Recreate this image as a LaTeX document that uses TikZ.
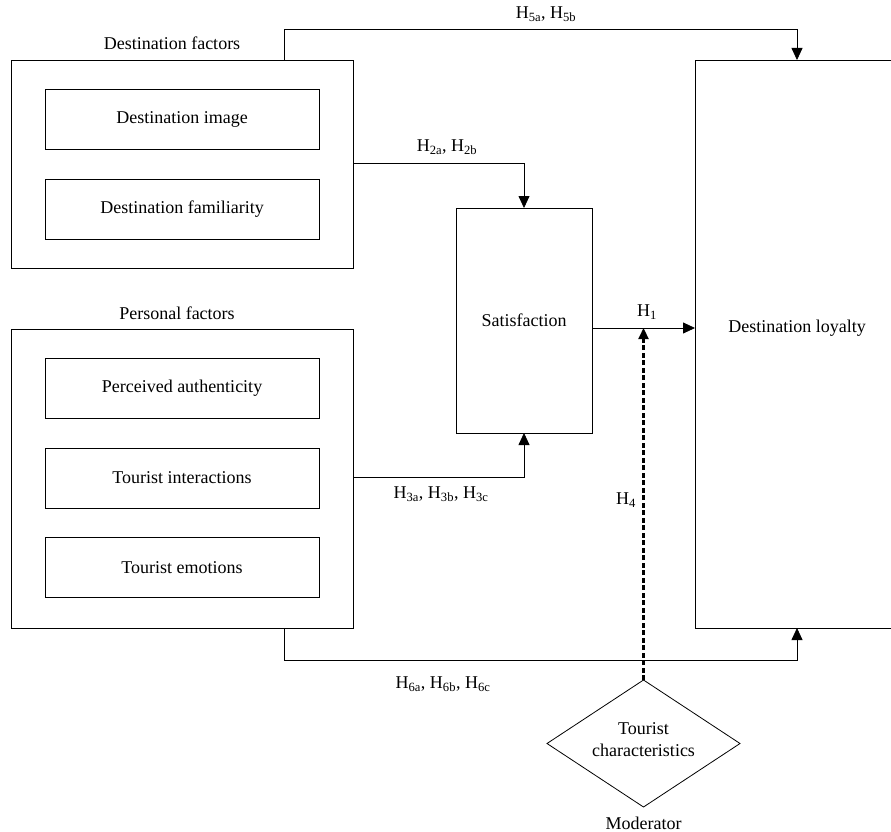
\documentclass[tikz,border=0pt]{standalone}
\usepackage{fontspec}
\setmainfont{Liberation Serif}
\usetikzlibrary{arrows.meta}
\begin{document}
\begin{tikzpicture}[x=1pt,y=-1pt,
  every node/.style={font=\fontsize{18}{22}\selectfont, inner sep=0pt},
  box/.style={draw, line width=0.8pt, rectangle},
  conn/.style={line width=0.8pt, -{Triangle[length=12pt,width=11pt]}},
  plain/.style={line width=0.8pt},
  dashconn/.style={line width=2.2pt, dash pattern=on 5pt off 2.5pt, -{Triangle[length=11pt,width=10pt]}},
  lbl/.style={}]
\clip (0,0) rectangle (891,832);
\fill[white] (0,0) rectangle (891,832);

% Destination factors
\node[lbl] (dflbl) at (172,43) {Destination factors};
\node[box, minimum width=342pt, minimum height=208pt] (df) at (182,164) {};
\node[box, minimum width=274pt, minimum height=60pt] (dimg) at (182,119) {Destination image};
\node[box, minimum width=274pt, minimum height=60pt] (dfam) at (182,209) {Destination familiarity};

% Personal factors
\node[lbl] (pflbl) at (177,313) {Personal factors};
\node[box, minimum width=342pt, minimum height=299pt] (pf) at (182,478.5) {};
\node[box, minimum width=274pt, minimum height=60pt] (pa) at (182,388) {Perceived authenticity};
\node[box, minimum width=274pt, minimum height=60pt] (ti) at (182,478) {Tourist interactions};
\node[box, minimum width=274pt, minimum height=60pt] (te) at (182,567.5) {Tourist emotions};

% Satisfaction
\node[box, minimum width=136pt, minimum height=225pt] (sat) at (524,320.5) {Satisfaction};

% Destination loyalty
\node[box, minimum width=204pt, minimum height=568pt] (loy) at (797,344) {};
\node (loytxt) at (797,328) {Destination loyalty};

% Tourist characteristics diamond
\coordinate (dtop) at (643.5,680);
\coordinate (dright) at (740,743.5);
\coordinate (dbot) at (643.5,807);
\coordinate (dleft) at (547,743.5);
\draw[plain] (dtop) -- (dright) -- (dbot) -- (dleft) -- cycle;
\node[align=center] (tc) at (643.5,740) {Tourist\\characteristics};
\node (mod) at (643.5,823) {Moderator};

% Connectors
\coordinate (h5s) at (284,60);
\coordinate (h5e) at (797,60);
\draw[conn] (h5s) -- (284,29) -- (797,29) -- (h5e);
\node (h5) at (546,14) {H\textsubscript{5a}, H\textsubscript{5b}};

\coordinate (h2s) at (353,163);
\coordinate (h2e) at (524,208);
\draw[conn] (h2s) -- (524,163) -- (h2e);
\node (h2) at (447,147) {H\textsubscript{2a}, H\textsubscript{2b}};

\coordinate (h3s) at (353,477);
\coordinate (h3e) at (524,433);
\draw[conn] (h3s) -- (524,477) -- (h3e);
\node (h3) at (441,494) {H\textsubscript{3a}, H\textsubscript{3b}, H\textsubscript{3c}};

\coordinate (h1s) at (592,328);
\coordinate (h1e) at (695,328);
\draw[conn] (h1s) -- (h1e);
\node (h1) at (647,312) {H\textsubscript{1}};

\coordinate (h6s) at (284,628);
\coordinate (h6e) at (797,628);
\draw[conn] (h6s) -- (284,660) -- (797,660) -- (h6e);
\node (h6) at (443,684) {H\textsubscript{6a}, H\textsubscript{6b}, H\textsubscript{6c}};

\coordinate (h4e) at (643.5,328);
\draw[dashconn] (dtop) -- (h4e);
\node (h4) at (626,500) {H\textsubscript{4}};
\end{tikzpicture}
\end{document}
